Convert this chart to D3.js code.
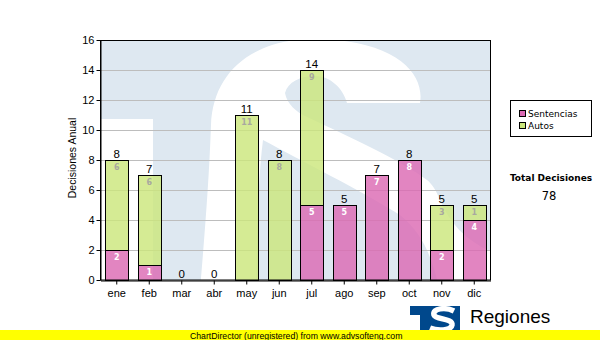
<!DOCTYPE html>
<html><head><meta charset="utf-8">
<script src="https://cdn.jsdelivr.net/npm/d3@7"></script>
<style>body{margin:0;background:#fff}svg{display:block}</style>
</head><body>
<script>
const meses = ["ene","feb","mar","abr","may","jun","jul","ago","sep","oct","nov","dic"];
const sentencias = [2,1,0,0,0,0,5,5,7,8,2,4];
const autos = [6,6,0,0,11,8,9,0,0,0,3,1];
const yTicks = [0,2,4,6,8,10,12,14,16];
const seriesNames = ["Sentencias","Autos"];
const seriesColors = ["rgb(220,106,179)","rgb(204,231,124)"];
const totalLabel = "Total Decisiones";
const yTitle = "Decisiones Anual";
const footer = "ChartDirector (unregistered) from www.advsofteng.com";
const brand = "Regiones";

const W = 600, H = 340;
const svg = d3.select("body").append("svg").attr("width", W).attr("height", H);
const L = 100.5, R = 490.5, T = 40, B = 280;

const x = d3.scaleBand().domain(meses).range([L, R]).paddingInner(0.3).paddingOuter(0.15);
const y = d3.scaleLinear().domain([0, 16]).range([B, T]);

// watermark
svg.append("clipPath").attr("id","pc").append("rect").attr("x",L).attr("y",T).attr("width",R-L).attr("height",B-T);
const wm = svg.append("g").attr("clip-path","url(#pc)");
wm.append("rect").attr("x",L).attr("y",T).attr("width",R-L).attr("height",B-T).attr("fill","rgb(222,232,241)");
wm.append("rect").attr("x",L).attr("y",119).attr("width",153-L).attr("height",B-119).attr("fill","#fff");
wm.append("path").attr("fill","#fff").attr("d",
  "M420,103 C425,75 398,40 315,39 C252,39 213,72 211,125 C209,180 205,230 200,290 L256,290 " +
  "C257,230 258,180 263,140 C300,160 360,190 400,215 C425,235 432,260 440,290 L500,290 L500,255 " +
  "C470,245 450,225 440,200 C436,190 432,184 427,180 C400,160 350,137 307,117 C296,112 287,104 285,93 " +
  "C288,82 300,76 315,76 C330,76 343,88 347,103 Z");

// gridlines
svg.append("g").selectAll("line").data(yTicks.filter(d=>d>0 && d<16)).join("line")
  .attr("x1",L).attr("x2",R).attr("y1",d=>Math.round(y(d))+0.5).attr("y2",d=>Math.round(y(d))+0.5)
  .attr("stroke","#bdbdbd").attr("stroke-width",1);

// bars
const stackData = meses.map((m,i)=>({m, s:sentencias[i], a:autos[i]}));
const stack = d3.stack().keys(["s","a"])(stackData);
const bars = svg.append("g");
stack.forEach((layer, li) => {
  bars.selectAll(null).data(layer.filter(d=>d[1]-d[0]>0)).join("rect")
    .attr("x", d=>Math.round(x(d.data.m))+0.5)
    .attr("y", d=>Math.round(y(d[1]))+0.5)
    .attr("width", Math.round(x.bandwidth()))
    .attr("height", d=>Math.round(y(d[0]))-Math.round(y(d[1])))
    .attr("fill", seriesColors[li]).attr("fill-opacity",0.82)
    .attr("stroke","#000").attr("stroke-width",1);
});
// inner labels
stack.forEach((layer, li) => {
  svg.append("g").selectAll("text").data(layer.filter(d=>d[1]-d[0]>0)).join("text")
    .attr("x", d=>x(d.data.m)+x.bandwidth()/2)
    .attr("y", d=>y(d[1])+10)
    .attr("text-anchor","middle")
    .attr("font-family","DejaVu Sans").attr("font-size",8).attr("font-weight","bold")
    .attr("fill", li===0 ? "#fff" : "#a8a8a0")
    .text(d=>d[1]-d[0]);
});
// totals
svg.append("g").selectAll("text").data(stackData).join("text")
  .attr("x", d=>x(d.m)+x.bandwidth()/2)
  .attr("y", d=>y(d.s+d.a)-2.5)
  .attr("text-anchor","middle")
  .attr("font-family","Liberation Sans, Arial").attr("font-size",11.5)
  .attr("fill","#000").text(d=>d.s+d.a);

// frame
svg.append("rect").attr("x",L).attr("y",T+0.5).attr("width",R-L).attr("height",B-T-0.5)
  .attr("fill","none").attr("stroke","#000").attr("stroke-width",1);

// axes
const yAxis = d3.axisLeft(y).tickValues(yTicks).tickSize(4).tickSizeOuter(0).tickPadding(2);
const gy = svg.append("g").attr("transform",`translate(${L},0)`).call(yAxis);
const xAxis = d3.axisBottom(x).tickSize(4).tickSizeOuter(0).tickPadding(3);
const gx = svg.append("g").attr("transform",`translate(0,${B+0.5})`).call(xAxis);
[gy,gx].forEach(g=>{
  g.selectAll("path.domain").attr("stroke","#000");
  g.selectAll("line").attr("stroke","#000");
  g.selectAll("text").attr("font-family","Liberation Sans, Arial").attr("font-size",11).attr("fill","#000");
});
gx.selectAll("text").attr("dy","0.9em");

svg.append("text").attr("transform","translate(76,158) rotate(-90)")
  .attr("text-anchor","middle").attr("font-family","Liberation Sans, Arial").attr("font-size",10.5)
  .attr("fill","#000").text(yTitle);

// legend
const lg = svg.append("g");
lg.append("rect").attr("x",510.5).attr("y",100.5).attr("width",81).attr("height",36).attr("fill","#fff").attr("stroke","#000");
seriesNames.forEach((n,i)=>{
  lg.append("rect").attr("x",519.5).attr("y",110.5+i*12).attr("width",6).attr("height",6)
    .attr("fill",seriesColors[i]).attr("stroke","#000");
  lg.append("text").attr("x",528).attr("y",117+i*12).attr("font-family","DejaVu Sans").attr("font-size",9)
    .attr("fill","#000").text(n);
});
svg.append("text").attr("x",551).attr("y",181).attr("text-anchor","middle")
  .attr("font-family","DejaVu Sans").attr("font-weight","bold").attr("font-size",9).attr("fill","#000").text(totalLabel);
svg.append("text").attr("x",549).attr("y",200).attr("text-anchor","middle")
  .attr("font-family","DejaVu Sans").attr("font-size",11.5).attr("fill","#000")
  .text(d3.sum(sentencias)+d3.sum(autos));

// logo
const lgo = svg.append("g");
lgo.append("rect").attr("x",410).attr("y",306).attr("width",50).attr("height",26).attr("fill","rgb(0,72,140)");
lgo.append("rect").attr("x",410).attr("y",315).attr("width",10).attr("height",18).attr("fill","#fff");
lgo.append("path").attr("fill","none").attr("stroke","#fff").attr("stroke-width",5.5)
  .attr("d","M454,311 C446,307 432,308 434,315 C436,320 453,318 452,325 C451,331 437,331 430,328");
svg.append("text").attr("x",470).attr("y",322.5).attr("font-family","Liberation Sans, Arial").attr("font-size",19)
  .attr("fill","#000").text(brand);

// footer
svg.append("rect").attr("x",0).attr("y",330).attr("width",W).attr("height",10).attr("fill","#ffff00");
svg.append("text").attr("x",190).attr("y",338.5).attr("font-family","Liberation Sans, Arial").attr("font-size",8.7)
  .attr("fill","#000").text(footer);
</script>
</body></html>
